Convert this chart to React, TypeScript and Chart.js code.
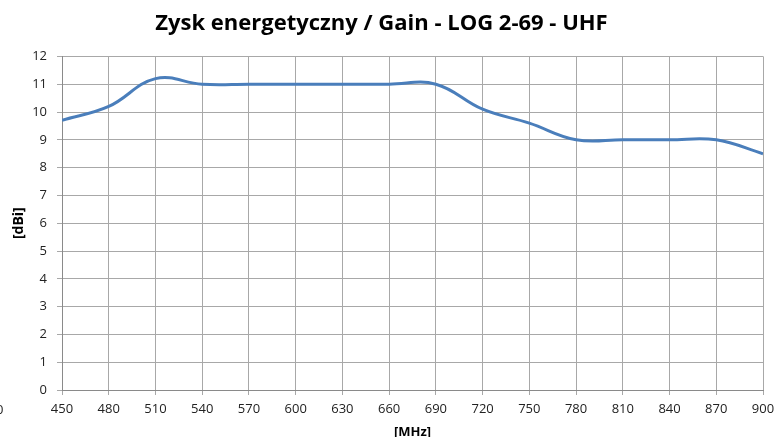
import React, { useEffect, useRef } from "react";
import { Chart, registerables } from "chart.js";

Chart.register(...registerables);

const TITLE = "Zysk energetyczny / Gain - LOG 2-69 - UHF";
const frequenciesMHz = [450, 480, 510, 540, 570, 600, 630, 660, 690, 720, 750, 780, 810, 840, 870, 900];
const gainDbi = [9.7, 10.2, 11.2, 11.0, 11.0, 11.0, 11.0, 11.0, 11.0, 10.1, 9.6, 9.0, 9.0, 9.0, 9.0, 8.5];
const X_MIN = 450;
const X_MAX = 900;
const X_STEP = 30;
const Y_MIN = 0;
const Y_MAX = 12;
const Y_STEP = 1;
const X_TITLE = "[MHz]";
const Y_TITLE = "[dBi]";

const FONT = "'Open Sans', 'DejaVu Sans', sans-serif";

// Trims anything drawn right of the x scale's end, then draws the x-axis tick
// labels from the x scale's own ticks.
const xTickLabelsPlugin = {
  id: "xTickLabels",
  afterDraw(chart: any) {
    const s = chart.scales.x;
    const ctx = chart.ctx;
    const area = chart.chartArea;
    ctx.save();
    ctx.fillStyle = "#ffffff";
    const x0 = s.right + 2;
    ctx.fillRect(x0, area.top - 3, chart.width - x0, area.bottom - area.top + 4);
    ctx.font = `13px ${FONT}`;
    ctx.fillStyle = "#222222";
    ctx.textAlign = "center";
    ctx.textBaseline = "middle";
    s.ticks.forEach((t: any) => {
      ctx.fillText(String(t.value), s.getPixelForValue(t.value), s.top + 19);
    });
    ctx.restore();
  },
};

export default function App() {
  const ref = useRef<HTMLCanvasElement | null>(null);

  useEffect(() => {
    document.body.style.margin = "0";
    document.body.style.overflow = "hidden";
    const canvas = ref.current;
    if (!canvas) return;
    const chart = new Chart(canvas, {
      type: "line",
      data: {
        datasets: [
          {
            label: "Gain",
            data: frequenciesMHz.map((f, i) => ({ x: f, y: gainDbi[i] })),
            borderColor: "#4a7ebb",
            backgroundColor: "#4a7ebb",
            borderWidth: 3,
            pointRadius: 0,
            tension: 0.4,
            fill: false,
          },
        ],
      },
      plugins: [xTickLabelsPlugin],
      options: {
        animation: false,
        responsive: false,
        maintainAspectRatio: false,
        layout: { padding: { left: 0, right: 12, top: 0, bottom: 0 } },
        plugins: {
          legend: { display: false },
          tooltip: { enabled: false },
          title: {
            display: true,
            text: TITLE,
            color: "#000000",
            font: { family: FONT, size: 22, weight: "bold" },
            padding: { top: 11, bottom: 19 },
            align: "center",
          },
        },
        scales: {
          x: {
            type: "linear",
            min: X_MIN,
            max: X_MAX,
            afterFit: (scale: any) => {
              scale.height = 47;
            },
            ticks: {
              display: false,
              stepSize: X_STEP,
              maxRotation: 0,
            },
            grid: {
              color: "#a8a8a8",
              lineWidth: 1,
              tickLength: 5,
              drawTicks: true,
            },
            border: { color: "#8a8a8a", width: 1 },
            title: {
              display: true,
              text: X_TITLE,
              color: "#000000",
              font: { family: FONT, size: 13, weight: "bold" },
              padding: { top: 0, bottom: -3 },
            },
          },
          y: {
            type: "linear",
            min: Y_MIN,
            max: Y_MAX,
            afterFit: (scale: any) => {
              scale.width = 62;
            },
            ticks: {
              stepSize: Y_STEP,
              color: "#222222",
              font: { family: FONT, size: 13 },
              padding: 10,
            },
            grid: {
              color: "#a8a8a8",
              lineWidth: 1,
              tickLength: 5,
              drawTicks: true,
            },
            border: { color: "#8a8a8a", width: 1 },
            title: {
              display: true,
              text: Y_TITLE,
              color: "#000000",
              font: { family: FONT, size: 14, weight: "bold" },
              padding: { top: 11, bottom: 0 },
            },
          },
        },
      },
    });
    return () => chart.destroy();
  }, []);

  return (
    <div style={{ position: "absolute", left: 0, top: 0, width: 775, height: 437, overflow: "hidden", background: "#ffffff" }}>
      <canvas ref={ref} width={775} height={437} style={{ display: "block" }} />
      <span
        style={{
          position: "absolute",
          left: -4,
          top: 400,
          fontFamily: FONT,
          fontSize: 13,
          color: "#222222",
        }}
      >
        0
      </span>
    </div>
  );
}
